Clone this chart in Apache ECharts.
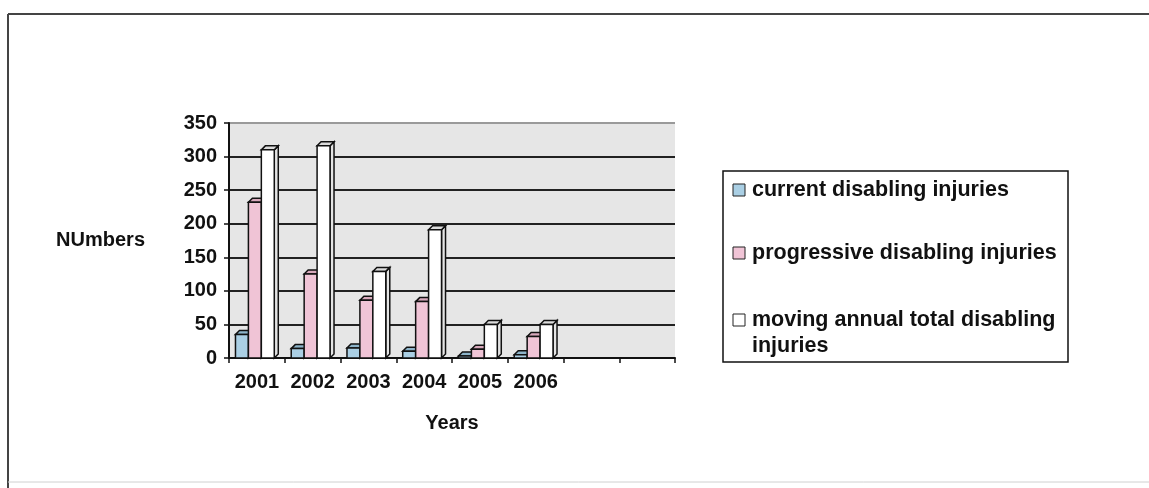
<!DOCTYPE html>
<html>
<head>
<meta charset="utf-8">
<script src="https://cdn.jsdelivr.net/npm/echarts@6/dist/echarts.min.js"></script>
<style>
  html, body { margin: 0; padding: 0; background: #fff; }
  #chart { width: 1149px; height: 488px; }
</style>
</head>
<body>
<div id="chart"></div>
<script>
// Categories on the x axis (two trailing empty slots keep the axis width)
const categories = ['2001', '2002', '2003', '2004', '2005', '2006', '', ''];

// Injury counts per year
const currentInjuries = [35, 14, 15, 10, 3, 5];
const progressiveInjuries = [232, 125, 86, 84, 13, 32];
const movingAnnualTotal = [310, 316, 129, 191, 50, 50];

const seriesNames = [
  'current disabling injuries',
  'progressive disabling injuries',
  'moving annual total disabling injuries'
];
const legendLabels = [
  'current disabling injuries',
  'progressive disabling injuries',
  'moving annual total disabling\ninjuries'
];

// Y axis range and step
const yMin = 0, yMax = 350, yStep = 50;

const FONT = '"Liberation Sans", Arial, Helvetica, sans-serif';
const frontColors = ['#aacfe4', '#f0c4d6', '#ffffff'];
const topColors = ['#8db4ca', '#d8a9bc', '#dcdcdc'];
const sideColors = ['#7b9fb4', '#c293a6', '#e4e4e4'];

// Draws one bar of a three-bar group as a box with a top cap and a right side
function makeRenderer(s) {
  return function (params, api) {
    const cat = api.value(0);
    const val = api.value(1);
    const top = api.coord([cat, val]);
    const base = api.coord([cat, 0]);
    const cw = api.size([1, 0])[0];
    const w = cw * 0.232;
    const d = 4;
    const x0 = top[0] - 1.5 * w - 2 + s * w;
    const x1 = x0 + w;
    const yt = top[1];
    const yb = base[1];
    const stroke = { stroke: '#111', lineWidth: 1.5, lineJoin: 'miter' };
    return {
      type: 'group',
      children: [
        {
          type: 'polygon',
          shape: { points: [[x1, yt], [x1 + d, yt - d], [x1 + d, yb - d], [x1, yb]] },
          style: Object.assign({ fill: sideColors[s] }, stroke)
        },
        {
          type: 'polygon',
          shape: { points: [[x0, yt], [x1, yt], [x1 + d, yt - d], [x0 + d, yt - d]] },
          style: Object.assign({ fill: topColors[s] }, stroke)
        },
        {
          type: 'rect',
          shape: { x: x0, y: yt, width: w, height: yb - yt },
          style: Object.assign({ fill: frontColors[s] }, stroke)
        }
      ]
    };
  };
}

const seriesValues = [currentInjuries, progressiveInjuries, movingAnnualTotal];

const series = seriesValues.map((vals, s) => ({
  type: 'custom',
  name: seriesNames[s],
  renderItem: makeRenderer(s),
  clip: false,
  encode: { x: 0, y: 1 },
  data: vals.map((v, i) => [i, v]),
  z: 2 + s
}));

// Legend box drawn beside the plot
const legendBox = { x: 723, y: 171, w: 345, h: 191 };
const legendRows = [190, 253, 320];
const legendGraphics = [{
  type: 'rect',
  shape: { x: legendBox.x, y: legendBox.y, width: legendBox.w, height: legendBox.h },
  style: { fill: '#fff', stroke: '#111', lineWidth: 1.5 },
  z: 10
}];
legendLabels.forEach((label, i) => {
  legendGraphics.push({
    type: 'rect',
    shape: { x: 733, y: legendRows[i] - 6, width: 12, height: 12 },
    style: { fill: frontColors[i], stroke: '#222', lineWidth: 1 },
    z: 11
  });
  legendGraphics.push({
    type: 'text',
    x: 752,
    y: legendRows[i] - 13,
    style: {
      text: label,
      fill: '#111',
      font: 'bold 21.5px ' + FONT,
      lineHeight: 26,
      verticalAlign: 'top',
      align: 'left'
    },
    z: 11
  });
});

// Outer frame around the chart
const frameGraphics = [
  { type: 'line', shape: { x1: 8, y1: 14, x2: 1149, y2: 14 }, style: { stroke: '#444', lineWidth: 2 } },
  { type: 'line', shape: { x1: 8, y1: 14, x2: 8, y2: 488 }, style: { stroke: '#444', lineWidth: 2 } },
  { type: 'line', shape: { x1: 8, y1: 482, x2: 1149, y2: 482 }, style: { stroke: '#d0d0d0', lineWidth: 1 } }
];

const chart = echarts.init(document.getElementById('chart'), null, { renderer: 'canvas' });

chart.setOption({
  backgroundColor: '#ffffff',
  animation: false,
  textStyle: { fontFamily: FONT },
  grid: {
    left: 229, top: 123, width: 446, height: 235,
    show: true, backgroundColor: '#e6e6e6', borderWidth: 0
  },
  xAxis: {
    type: 'category',
    data: categories,
    name: 'Years',
    nameLocation: 'middle',
    nameGap: 55,
    nameTextStyle: { color: '#111', fontSize: 20, fontWeight: 'bold', fontFamily: FONT },
    axisLine: { show: true, lineStyle: { color: '#111', width: 2 } },
    axisTick: { show: true, length: 5, interval: 0, lineStyle: { color: '#111', width: 1.5 } },
    axisLabel: { interval: 0, margin: 14, color: '#111', fontSize: 20, fontWeight: 'bold', fontFamily: FONT },
    splitLine: { show: false }
  },
  yAxis: {
    type: 'value',
    min: yMin, max: yMax, interval: yStep,
    name: 'NUmbers',
    nameLocation: 'middle',
    nameRotate: 0,
    nameGap: 84,
    nameTextStyle: { color: '#111', fontSize: 20, fontWeight: 'bold', fontFamily: FONT },
    axisLine: { show: true, lineStyle: { color: '#111', width: 2 } },
    axisTick: { show: true, length: 5, lineStyle: { color: '#111', width: 1.5 } },
    axisLabel: { margin: 12, color: '#111', fontSize: 20, fontWeight: 'bold', fontFamily: FONT },
    splitLine: {
      show: true,
      lineStyle: { color: ['#222', '#222', '#222', '#222', '#222', '#222', '#222', '#9a9a9a'], width: 2 }
    }
  },
  series: series,
  graphic: frameGraphics.concat(legendGraphics)
});
</script>
</body>
</html>
